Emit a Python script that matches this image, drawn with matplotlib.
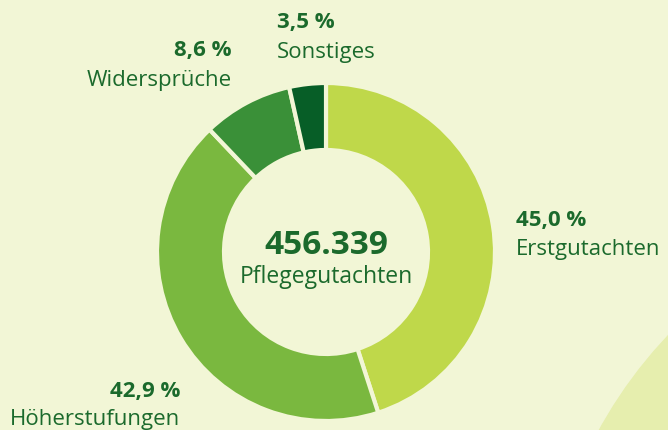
import matplotlib.pyplot as plt
from matplotlib.patches import Circle

# data
labels = ["Erstgutachten", "Höherstufungen", "Widersprüche", "Sonstiges"]
shares = [45.0, 42.9, 8.6, 3.5]
share_text = ["45,0 %", "42,9 %", "8,6 %", "3,5 %"]
colors = ["#bfd84a", "#7ab83f", "#3a9038", "#075e27"]
total_text = "456.339"
total_label = "Pflegegutachten"

bg = "#f2f6d6"
txt = "#1b6a2c"
W, H = 668, 430

fig = plt.figure(figsize=(W / 100, H / 100), dpi=100)
fig.patch.set_facecolor(bg)
ax = fig.add_axes([0, 0, 1, 1])

# big pale shape in the lower right corner
ax.add_patch(Circle((1000, H - 650), 457, color="#e6eeae", zorder=0))

cx, cy = 326, H - 252
ax.pie(shares, colors=colors, startangle=90, counterclock=False,
       center=(cx, cy), radius=169, frame=True,
       wedgeprops=dict(width=67, edgecolor=bg, linewidth=3))
ax.set_xlim(0, W)
ax.set_ylim(0, H)
ax.set_aspect("equal")
ax.axis("off")

fam = ["Open Sans", "DejaVu Sans"]

def label(x, y_pct, y_name, i, ha):
    ax.text(x, H - y_pct, share_text[i], ha=ha, va="baseline", fontsize=16,
            fontweight="bold", color=txt, family=fam)
    ax.text(x, H - y_name, labels[i], ha=ha, va="baseline", fontsize=16,
            color=txt, family=fam)

label(516, 226, 255, 0, "left")
label(180, 397, 425, 1, "right")
label(232, 56, 86, 2, "right")
label(277, 28, 58, 3, "left")

ax.text(cx, H - 254, total_text, ha="center", va="baseline", fontsize=24,
        fontweight="bold", color=txt, family=fam)
ax.text(cx, H - 283, total_label, ha="center", va="baseline", fontsize=16.5,
        color=txt, family=fam)

fig.savefig("out.png", dpi=100, facecolor=bg)
